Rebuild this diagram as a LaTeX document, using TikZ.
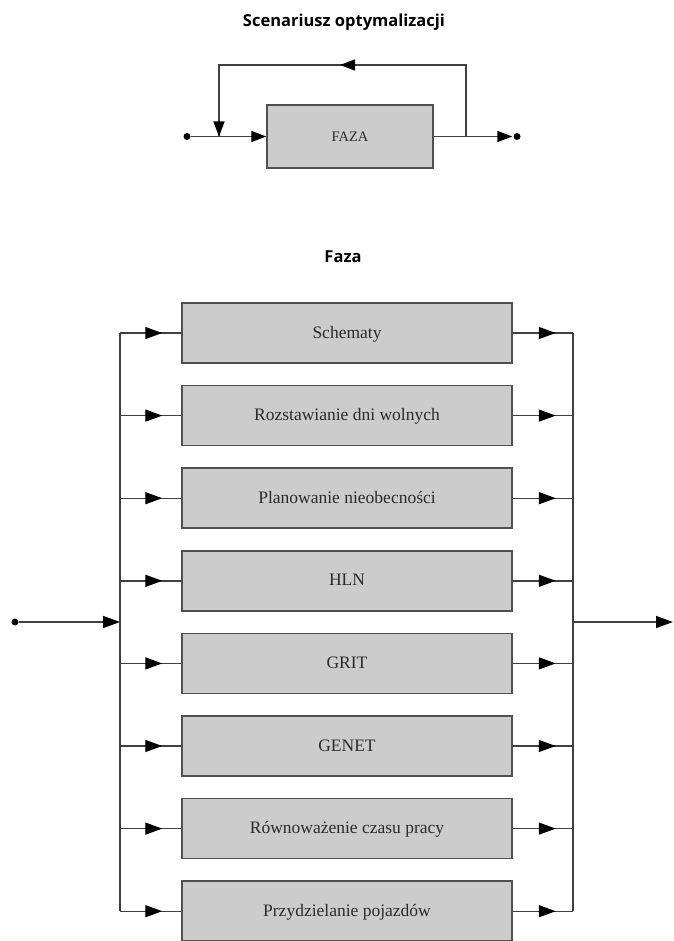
\documentclass[tikz,border=0pt]{standalone}
\usepackage{fontspec}
\setmainfont{Liberation Serif}
\newfontfamily\titlefont{Open Sans}
\usetikzlibrary{arrows.meta,calc}
\definecolor{boxfill}{HTML}{CCCCCC}
\definecolor{boxline}{HTML}{505050}
\definecolor{connline}{HTML}{404040}
\definecolor{txt}{HTML}{2A2A2A}
\tikzset{
  titletext/.style={font=\titlefont\bfseries\fontsize{16.5}{18}\selectfont, anchor=base, text=black, inner sep=0pt},
  phasebox/.style={draw=boxline, fill=boxfill, line width=1.5pt, minimum width=330pt, minimum height=60pt,
     inner sep=0pt, text height=10pt, text depth=0pt, text=txt, font=\fontsize{17.5}{19}\selectfont},
  fazabox/.style={phasebox, minimum width=166pt, minimum height=63pt, font=\fontsize{14.5}{16}\selectfont},
  conn/.style={draw=connline, line width=1.4pt},
  tri/.style={-{Triangle[length=17pt,width=12pt,color=black]}},
  trismall/.style={-{Triangle[length=15pt,width=11pt,color=black]}},
  dot/.style={circle, fill=black, inner sep=0pt, minimum size=7pt},
}
\begin{document}
\begin{tikzpicture}[x=1pt,y=-1pt]
\useasboundingbox (0,0) rectangle (673,941);
% ---------- top diagram ----------
\node[titletext] (t1) at (344,27) {Scenariusz optymalizacji};
\node[fazabox] (faza) at (350,136.5) {FAZA};
\node[dot] (in0) at (187,136.5) {};
\node[dot] (out0) at (517,136.5) {};
\coordinate (j1) at (219,136.5);
\coordinate (j2) at (466,136.5);
\coordinate (tl) at (219,65);
\coordinate (tr) at (466,65);
\coordinate (tm) at (340,65);
\draw[conn,trismall] (in0) -- (faza.west);
\draw[conn,trismall,shorten >=1pt] (faza.east) -- (out0);
\draw[conn] (j2) -- (tr) -- (tl) -- (j1);
\draw[conn,trismall] (tr) -- (tm);
\draw[conn,trismall] (tl) -- (j1);
% ---------- bottom diagram ----------
\node[titletext] (t2) at (343,262) {Faza};
\foreach \i/\txt in {0/Schematy,1/Rozstawianie dni wolnych,2/Planowanie nieobecności,3/HLN,4/GRIT,5/GENET,6/Równoważenie czasu pracy,7/Przydzielanie pojazdów}{
  \pgfmathsetmacro{\yy}{333+82.6*\i}
  \node[phasebox] (b\i) at (347,\yy) {\txt};
  \coordinate (L\i) at (120,\yy);
  \coordinate (R\i) at (573,\yy);
  \draw[conn] (L\i) -- (b\i.west);
  \draw[conn,tri] (L\i) -- ($(b\i.west)+(-19,0)$);
  \draw[conn] (b\i.east) -- (R\i);
  \draw[conn,tri] (b\i.east) -- ($(b\i.east)+(43,0)$);
}
\draw[conn] (L0) -- (L7);
\draw[conn] (R0) -- (R7);
\node[dot] (in1) at (15,622) {};
\coordinate (Lm) at (120,622);
\coordinate (Rm) at (573,622);
\coordinate (out1) at (673,622);
\draw[conn,tri] (in1) -- (Lm);
\draw[conn,tri] (Rm) -- (out1);
\end{tikzpicture}
\end{document}
